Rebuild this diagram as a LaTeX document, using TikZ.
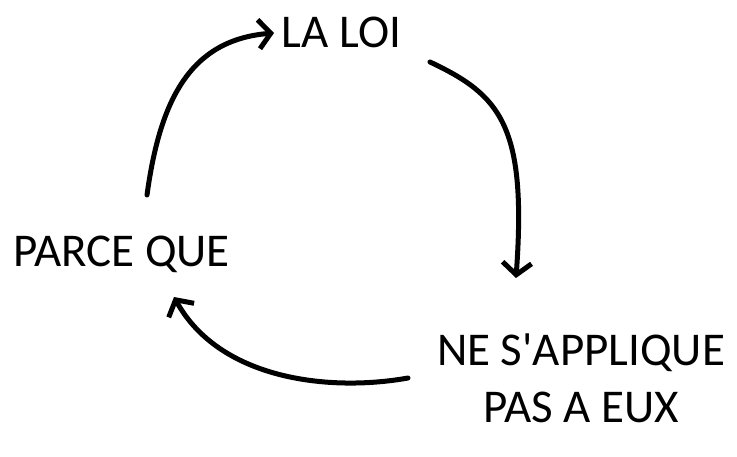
\documentclass[tikz,border=0pt]{standalone}
\usepackage{fontspec}
\newfontfamily\lblfont{Carlito}
\usetikzlibrary{arrows.meta}
\begin{document}
\begin{tikzpicture}[x=1pt,y=-1pt,
  lbl/.style={inner sep=0pt,font=\lblfont\fontsize{47}{57}\selectfont,text=black},
  flow/.style={line width=5pt,line cap=round,-{Straight Barb[length=12pt,width=29pt,line cap=butt]}}]
\useasboundingbox (0,0) rectangle (737,457);
\node[lbl,anchor=base] (loi) at (341.5,48) {LA LOI};
\node[lbl,anchor=base] (parce) at (121.5,267) {PARCE QUE};
\node[lbl,anchor=base,align=center] (ne) at (581,422) {NE S'APPLIQUE\\PAS A EUX};
\coordinate (a1s) at (147,195);
\coordinate (a1e) at (274,33);
\coordinate (a2s) at (430,62);
\coordinate (a2e) at (516,278);
\coordinate (a3s) at (408,378);
\coordinate (a3e) at (174,297);
\draw[flow] (a1s) .. controls (160,100) and (190,40) .. (a1e);
\draw[flow] (a2s) .. controls (500,95) and (527,125) .. (a2e);
\draw[flow] (a3s) .. controls (330,392) and (220,380) .. (a3e);
\end{tikzpicture}
\end{document}
